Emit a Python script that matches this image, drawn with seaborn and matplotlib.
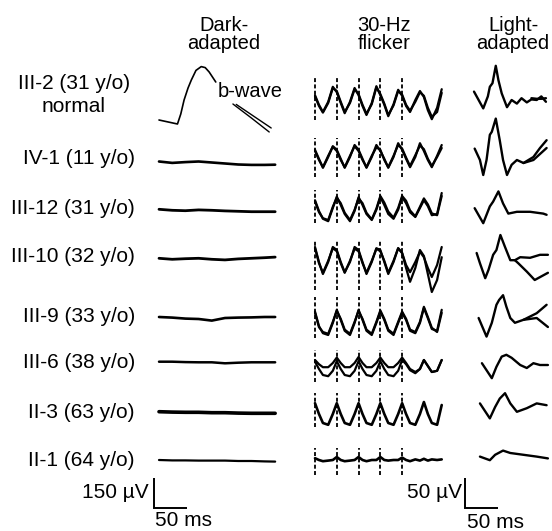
import numpy as np
import pandas as pd
import matplotlib
matplotlib.use("Agg")
import matplotlib.pyplot as plt
import seaborn as sns

# ---------------- data ----------------
ROW_LABELS = ["IV-1 (11 y/o)", "III-12 (31 y/o)", "III-10 (32 y/o)", "III-9 (33 y/o)",
              "III-6 (38 y/o)", "II-3 (63 y/o)", "II-1 (64 y/o)"]
ROW1_LABEL = ["III-2 (31 y/o)", "normal"]
HEADERS = [("Dark-", "adapted"), ("30-Hz", "flicker"), ("Light-", "adapted")]

# Dark-adapted (ms, µV)
D1_T = [0, 28, 33, 38, 44, 49, 56, 64, 70, 76, 86]
D1_V = [0, -20, 30, 100, 160, 200, 248, 267, 262, 240, 190]
D1A_T = [112, 140, 167]
D1A_V = [80, 10, -60]
D1B_T = [117, 143, 170]
D1B_V = [78, 20, -40]
DARK_T = [0, 20, 40, 60, 80, 100, 120, 140, 160, 176]
D2 = [0, -7, -3, 0, -5, -10, -15, -17, -17, -16]
D3 = [0, -5, -7, -3, -5, -8, -10, -12, -12, -12]
D4 = [0, -5, -2, 0, -5, -8, -3, 0, 3, 6]
D5 = [0, -3, -8, -10, -18, -5, -3, -2, 0, 0]
D6 = [0, 0, -2, -3, -3, -8, -5, -3, -3, -3]
D7 = [0, -2, -3, -3, -5, -5, -7, -8, -8, -8]
D8 = [0, -2, -2, -3, -3, -3, -5, -5, -7, -8]

# 30-Hz flicker (ms, µV)
FLASH_T = [0, 33, 66, 99, 132]
FLK_T = [0, 6, 12, 20, 27, 33, 39, 45, 53, 60, 66, 72, 78, 86, 93, 99, 105, 111, 119, 126,
         132, 138, 144, 152, 159, 165, 171, 177, 185, 192]
F1A = [8, -8, -20, -3, 22, 13, -5, -22, -3, 20, 8, -10, -25, -5, 23, 8, -8, -27, -7, 17,
       7, -10, -20, 0, 15, 5, -17, -32, -13, 18]
F1B = [6, -10, -21, -5, 20, 15, -3, -20, -5, 18, 10, -8, -23, -7, 21, 10, -6, -25, -9, 15,
       9, -8, -18, -3, 13, 7, -13, -28, -20, 12]
F2A = [12, -3, -18, 0, 18, 12, -3, -18, 0, 20, 12, -3, -18, 0, 20, 10, -3, -18, 0, 23,
       12, -3, -17, 0, 23, 10, -5, -17, 2, 20]
F2B = [10, -5, -17, 2, 17, 10, -5, -17, 2, 18, 10, -5, -17, 2, 16, 12, -5, -17, 2, 20,
       14, -1, -15, 3, 19, 13, -3, -15, 0, 15]
F3A = [13, -5, -18, -22, 0, 19, 5, -10, -22, -5, 18, 5, -10, -20, -3, 18, 5, -10, -18, -3,
       18, 8, -7, -15, 0, 13, 3, -12, -10, 25]
F3B = [11, -7, -17, -20, 2, 17, 8, -8, -20, -3, 16, 8, -8, -19, -1, 20, 9, -6, -16, 0,
       20, 12, -4, -14, 2, 16, 6, -9, -12, 20]
F4A = [25, 0, -20, 0, 25, 20, 0, -17, 0, 25, 20, 0, -20, 0, 23, 20, 0, -20, 0, 23,
       15, -10, -33, -10, 20, 10, -20, -50, -30, 8]
F4B = [23, -2, -18, 2, 23, 18, -2, -18, 2, 22, 18, -2, -18, 2, 22, 18, 2, -18, 2, 23,
       15, -5, -17, 0, 17, 8, -10, -25, -5, 25]
F5A = [14, -10, -22, -25, -5, 17, 0, -18, -25, -5, 17, 0, -18, -25, -5, 14, 0, -18, -25, -5,
       12, 0, -18, -22, -5, 20, 3, -15, -18, 17]
F5B = [12, -12, -20, -23, -3, 15, 2, -16, -23, -3, 15, 2, -16, -23, -3, 16, 2, -16, -23, -3,
       14, 2, -16, -20, -3, 22, 5, -13, -20, 12]
F6A = [10, 3, -2, -2, 5, 14, 5, -2, -2, 5, 15, 5, -2, -2, 5, 14, 5, -2, -2, 5,
       14, 5, -5, -10, -5, 10, 0, -10, -8, 10]
F6B = [7, -5, -15, -17, -8, 8, -5, -15, -17, -8, 8, -5, -15, -17, -8, 8, -5, -15, -17, -8,
       10, 3, -7, -12, -5, 10, 0, -10, -8, 10]
F7 = [18, 0, -15, -18, 0, 18, 0, -15, -18, 0, 18, 0, -15, -18, 0, 18, 0, -15, -18, 0,
      18, 0, -15, -18, 0, 20, 0, -15, -18, 15]
F8 = [3, 0, -2, -1, 0, 5, 0, -2, -1, 0, 5, 0, -2, 0, 0, 5, 0, -1, 0, 0,
      4, 0, -2, 1, -1, 2, -1, 1, 0, 1]

# Light-adapted (ms, µV)
L1_T = [0, 4, 14, 21, 24, 28, 33, 37, 42, 50, 57, 65, 72, 80, 87, 95, 102, 109]
L1_V = [14, 6, -14, 6, 22, 28, 57, 33, 11, -12, 0, -6, 3, -4, 1, 0, 6, -3]
L1B_T = [87, 95, 102, 109]
L1B_V = [3, 2, 2, 3]
L2_T = [1, 9, 14, 19, 24, 27, 33, 39, 44, 50, 57, 65, 75, 90, 100, 110]
L2_V = [14, -5, -30, -5, 37, 42, 64, 28, -5, -30, -13, -5, -10, 0, 15, 28]
L2B_T = [75, 90, 100, 110]
L2B_V = [-10, -5, 5, 15]
L3_T = [1, 14, 24, 29, 37, 44, 52, 65, 85, 105, 110]
L3_V = [3, -22, 6, 14, 31, 11, -6, -3, -3, -6, -8]
L4_T = [4, 9, 17, 22, 29, 34, 40, 47, 55, 62, 70, 85, 100, 112]
L4_V = [15, -2, -27, -13, 12, 20, 45, 25, 3, 3, 8, 7, 12, 12]
L4B_T = [62, 67, 80, 92, 112]
L4B_V = [3, -2, -16, -30, -18]
L5_T = [7, 19, 27, 34, 38, 44, 49, 55, 62, 75, 95, 110]
L5_V = [0, -31, -8, 22, 30, 38, 19, 0, -8, -3, 8, 22]
L5B_T = [75, 95, 112]
L5B_V = [-3, 0, -15]
L6_T = [12, 27, 34, 42, 49, 57, 70, 80, 90, 100, 112]
L6_V = [3, -22, -3, 14, 17, 12, 0, -5, 3, 0, 0]
L7_T = [9, 24, 32, 39, 47, 55, 65, 80, 95, 110]
L7_V = [6, -19, 0, 14, 23, 6, -8, -2, 6, 3]
L8_T = [9, 24, 32, 44, 55, 75, 95, 112]
L8_V = [-1, -7, 2, 9, 5, 2, -1, -4]

SCALE_MS = 50
SCALE_DARK_UV = 150
SCALE_FLK_UV = 50

# ---------------- layout ----------------
W, H = 552, 531
PX_MS = 0.66
PX_UV_DARK = 0.2
PX_UV_FLK = 0.6

sns.set_theme(style="white")
plt.rcParams["font.family"] = ["Liberation Sans", "DejaVu Sans"]
plt.rcParams["text.color"] = "black"

fig = plt.figure(figsize=(5.52, 5.31), dpi=100)
fig.patch.set_facecolor("white")


def column_axes(t0_px, px_uv):
    ax = fig.add_axes([0, 0, 1, 1])
    ax.set_axis_off()
    ax.patch.set_alpha(0)
    ax._t0 = t0_px
    ax._pu = px_uv
    return ax


def finish(ax):
    ax.set_xlim(-ax._t0 / PX_MS, (W - ax._t0) / PX_MS)
    ax.set_ylim(-H / ax._pu, 0)


def trace(ax, t, v, base_px, lw):
    off = -base_px / ax._pu
    df = pd.DataFrame({"t": t, "v": np.asarray(v, float) + off})
    sns.lineplot(data=df, x="t", y="v", ax=ax, color="black", linewidth=lw,
                 estimator=None, sort=False, legend=False,
                 solid_joinstyle="round", solid_capstyle="round")


ax_d = column_axes(159, PX_UV_DARK)
ax_f = column_axes(315, PX_UV_FLK)
ax_l = column_axes(474, PX_UV_FLK)
ax_t = fig.add_axes([0, 0, 1, 1])
ax_t.set_axis_off()
ax_t.patch.set_alpha(0)
ax_t.set_xlim(0, W)
ax_t.set_ylim(H, 0)

# Dark-adapted
trace(ax_d, D1_T, D1_V, 120, 1.2)
trace(ax_d, D1A_T, D1A_V, 120, 1.0)
trace(ax_d, D1B_T, D1B_V, 120, 1.0)
dark_rows = [D2, D3, D4, D5, D6, D7, D8]
dark_base = [161.5, 209.3, 258.3, 317, 361.7, 411.7, 460]
dark_lw = [1.9, 2.0, 2.0, 1.9, 1.8, 2.6, 1.6]
for vals, b, lw in zip(dark_rows, dark_base, dark_lw):
    trace(ax_d, DARK_T, vals, b, lw)

# Flicker
flk_rows = [(F1A, F1B), (F2A, F2B), (F3A, F3B), (F4A, F4B), (F5A, F5B), (F6A, F6B), (F7,), (F8,)]
flk_base = [100, 157, 208, 262, 320, 366, 414, 460]
flk_dash = [(77, 120), (138, 177), (190, 223), (240, 290), (297, 338), (350, 382), (393, 427), (448, 475)]
for tr, b, (top, bot) in zip(flk_rows, flk_base, flk_dash):
    ax_f.vlines(FLASH_T, -bot / PX_UV_FLK, -top / PX_UV_FLK, colors="black",
                linestyles=(0, (2.2, 1.3)), linewidth=1.3)
    for vals in tr:
        trace(ax_f, FLK_T, vals, b, 1.6 if len(tr) > 1 else 1.9)

# Light-adapted
light = [((L1_T, L1_V), (L1B_T, L1B_V)), ((L2_T, L2_V), (L2B_T, L2B_V)), ((L3_T, L3_V),),
         ((L4_T, L4_V), (L4B_T, L4B_V)), ((L5_T, L5_V), (L5B_T, L5B_V)), ((L6_T, L6_V),),
         ((L7_T, L7_V),), ((L8_T, L8_V),)]
light_base = [100, 157, 210, 262, 318, 365, 407, 456]
for tr, b in zip(light, light_base):
    for t, v in tr:
        trace(ax_l, t, v, b, 1.7)

# scale bars
def scale_bar(ax, x_px, y_px, uv):
    x = (x_px - ax._t0) / PX_MS
    y = -y_px / ax._pu
    ax.plot([x, x, x + SCALE_MS], [y + uv, y, y], color="black", lw=1.4,
            solid_joinstyle="miter", solid_capstyle="butt")

scale_bar(ax_d, 154, 508, SCALE_DARK_UV)
scale_bar(ax_f, 465, 508, SCALE_FLK_UV)

for a in (ax_d, ax_f, ax_l):
    finish(a)

FS = 15
# headers
for (l1, l2), cx in zip(HEADERS, [224, 384, 513]):
    ax_t.text(cx, 31, l1, ha="center", va="baseline", fontsize=14.5, color="black")
    ax_t.text(cx, 49, l2, ha="center", va="baseline", fontsize=14.5, color="black")

# row labels
ax_t.text(74, 89, ROW1_LABEL[0], ha="center", va="baseline", fontsize=FS, color="black")
ax_t.text(74, 112, ROW1_LABEL[1], ha="center", va="baseline", fontsize=FS, color="black")
label_y = [158, 208, 257, 316, 362, 412, 461]
for lab, y in zip(ROW_LABELS, label_y):
    ax_t.text(135, y, lab, ha="right", va="center", fontsize=FS, color="black")

ax_t.text(218, 97, "b-wave", ha="left", va="baseline", fontsize=14.5, color="black")

# scale labels
ax_t.text(149, 493, f"{SCALE_DARK_UV} µV", ha="right", va="center", fontsize=FS, color="black")
ax_t.text(155, 521, f"{SCALE_MS} ms", ha="left", va="center", fontsize=FS, color="black")
ax_t.text(462, 493, f"{SCALE_FLK_UV} µV", ha="right", va="center", fontsize=FS, color="black")
ax_t.text(467, 522, f"{SCALE_MS} ms", ha="left", va="center", fontsize=FS, color="black")

fig.savefig("out.png", dpi=100, facecolor="white")
